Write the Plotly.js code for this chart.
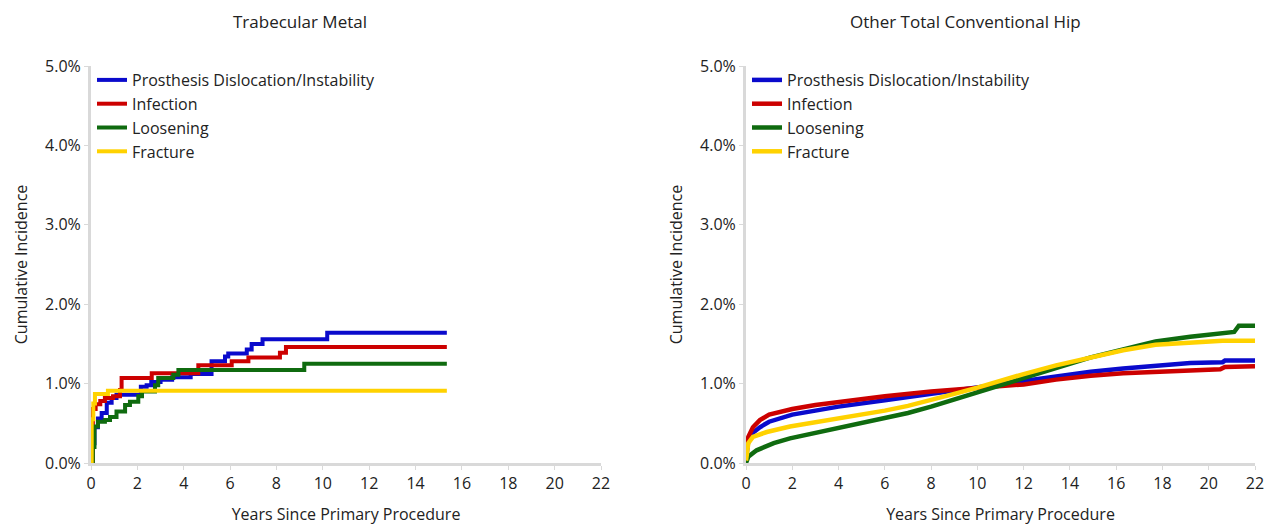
<!DOCTYPE html>
<html>
<head>
<meta charset="utf-8">
<script src="https://cdn.plot.ly/plotly-3.0.1.min.js"></script>
<style>html,body{margin:0;padding:0;background:#fff;}#chart{width:1277px;height:529px;}</style>
</head>
<body>
<div id="chart"></div>
<script>
// ---- Data (cumulative incidence, %) ----
const seriesNames = ["Prosthesis Dislocation/Instability", "Infection", "Loosening", "Fracture"];
const seriesColors = ["#0a0acc", "#cc0000", "#0f6b0f", "#ffd200"];
const panelTitles = ["Trabecular Metal", "Other Total Conventional Hip"];
const xTickVals = [0, 2, 4, 6, 8, 10, 12, 14, 16, 18, 20, 22];
const yTickVals = [0, 1, 2, 3, 4, 5];
const yTickText = ["0.0%", "1.0%", "2.0%", "3.0%", "4.0%", "5.0%"];

// Trabecular Metal (step functions)
const tmDislocX = [0, 0.03, 0.15, 0.3, 0.46, 0.68, 0.89, 1.1, 2.15, 2.4, 2.6, 3.0, 3.5, 4.3, 5.2, 5.78, 5.92, 6.72, 6.93, 7.4, 10.19, 15.35];
const tmDislocY = [0, 0.25, 0.45, 0.56, 0.63, 0.76, 0.82, 0.86, 0.96, 0.98, 1.02, 1.05, 1.08, 1.12, 1.28, 1.34, 1.38, 1.43, 1.50, 1.56, 1.64, 1.64];
const tmInfectX = [0, 0.08, 0.2, 0.4, 0.6, 0.95, 1.25, 1.32, 2.62, 4.63, 6.07, 6.79, 8.15, 8.41, 15.35];
const tmInfectY = [0, 0.68, 0.74, 0.78, 0.82, 0.84, 0.92, 1.07, 1.13, 1.23, 1.28, 1.33, 1.39, 1.46, 1.46];
const tmLoosenX = [0, 0.08, 0.15, 0.3, 0.6, 0.82, 1.1, 1.47, 1.68, 2.04, 2.2, 2.76, 2.9, 3.55, 3.77, 9.2, 15.35];
const tmLoosenY = [0, 0.2, 0.46, 0.52, 0.54, 0.58, 0.65, 0.73, 0.77, 0.84, 0.9, 0.98, 1.07, 1.11, 1.17, 1.25, 1.25];
const tmFractX = [0, 0.03, 0.1, 0.17, 0.73, 15.35];
const tmFractY = [0, 0.55, 0.75, 0.87, 0.91, 0.91];

// Other Total Conventional Hip
const ocDislocX = [0, 0.1, 0.3, 0.6, 1, 2, 3, 4, 6, 8, 10, 12, 13.4, 14.9, 16.3, 17.7, 19.2, 20.6, 20.7, 22];
const ocDislocY = [0.05, 0.28, 0.38, 0.45, 0.52, 0.61, 0.66, 0.71, 0.79, 0.87, 0.94, 1.03, 1.09, 1.15, 1.19, 1.23, 1.26, 1.27, 1.29, 1.29];
const ocInfectX = [0, 0.1, 0.3, 0.6, 1, 2, 3, 4, 6, 8, 10, 12, 13.4, 14.9, 16.3, 17.7, 19.2, 20.5, 20.7, 21.3, 22];
const ocInfectY = [0.1, 0.33, 0.45, 0.54, 0.61, 0.68, 0.73, 0.77, 0.84, 0.9, 0.95, 0.99, 1.05, 1.1, 1.13, 1.15, 1.17, 1.18, 1.21, 1.22, 1.22];
const ocLoosenX = [0, 0.1, 0.46, 1.2, 1.9, 3, 4, 5, 6, 7, 8, 9, 10, 11, 12, 13.4, 14.9, 16.3, 17.7, 19.2, 20.6, 21.1, 21.3, 22];
const ocLoosenY = [0, 0.08, 0.16, 0.25, 0.31, 0.38, 0.44, 0.5, 0.56, 0.63, 0.71, 0.8, 0.9, 0.98, 1.07, 1.2, 1.33, 1.43, 1.53, 1.59, 1.64, 1.65, 1.73, 1.73];
const ocFractX = [0, 0.1, 0.3, 0.9, 1.9, 3, 4, 5, 6, 7, 8, 9, 10, 11, 12, 13.4, 14.9, 16.3, 17.7, 19.2, 20.6, 22];
const ocFractY = [0.03, 0.25, 0.33, 0.39, 0.46, 0.51, 0.56, 0.61, 0.66, 0.72, 0.79, 0.87, 0.95, 1.04, 1.12, 1.23, 1.33, 1.42, 1.49, 1.52, 1.54, 1.54];

const FONT = "Open Sans, Noto Sans, sans-serif";
const leftSets = [[tmDislocX, tmDislocY], [tmInfectX, tmInfectY], [tmLoosenX, tmLoosenY], [tmFractX, tmFractY]];
const rightSets = [[ocDislocX, ocDislocY], [ocInfectX, ocInfectY], [ocLoosenX, ocLoosenY], [ocFractX, ocFractY]];

const traces = [];
leftSets.forEach((s, i) => traces.push({
  x: s[0], y: s[1], type: "scatter", mode: "lines", name: seriesNames[i],
  line: {color: seriesColors[i], width: 4, shape: "hv"},
  xaxis: "x", yaxis: "y", legend: "legend"
}));
rightSets.forEach((s, i) => traces.push({
  x: s[0], y: s[1], type: "scatter", mode: "lines", name: seriesNames[i],
  line: {color: seriesColors[i], width: 4.5, shape: "linear"},
  xaxis: "x2", yaxis: "y2", legend: "legend2"
}));

const W = 1277, H = 529;
function xAxis(d0, d1, anchor) {
  return {
    domain: [d0 / W, d1 / W], anchor: anchor, range: [0, 22],
    tickvals: xTickVals, ticktext: xTickVals.map(String),
    showgrid: false, zeroline: false, showline: true, linecolor: "#d9d9d9", linewidth: 3,
    ticks: "outside", ticklen: 4, tickcolor: "#d9d9d9", tickwidth: 1,
    tickfont: {family: FONT, size: 16, color: "#222"}, automargin: false,
    title: {text: "Years Since Primary Procedure", font: {family: FONT, size: 16, color: "#222"}, standoff: 16}
  };
}
function yAxis(anchor) {
  return {
    domain: [(H - 463) / H, (H - 66) / H], anchor: anchor, range: [0, 5],
    tickvals: yTickVals, ticktext: yTickText,
    showgrid: false, zeroline: false, showline: true, linecolor: "#d9d9d9", linewidth: 3,
    ticks: "outside", ticklen: 4, tickcolor: "#d9d9d9", tickwidth: 1,
    tickfont: {family: FONT, size: 16, color: "#222"}, automargin: false,
    title: {text: "Cumulative Incidence", font: {family: FONT, size: 16, color: "#222"}, standoff: 14}
  };
}
function legendAt(xpx) {
  return {
    x: xpx / W, xanchor: "left", y: (H - 63) / H, yanchor: "top",
    bgcolor: "rgba(0,0,0,0)", font: {family: FONT, size: 16, color: "#222"},
    tracegroupgap: 0, itemwidth: 30
  };
}

const layout = {
  width: W, height: H, margin: {l: 0, r: 0, t: 0, b: 0},
  paper_bgcolor: "#fff", plot_bgcolor: "#fff",
  showlegend: true,
  xaxis: xAxis(91, 601, "y"), yaxis: yAxis("x"),
  xaxis2: xAxis(746, 1255, "y2"), yaxis2: yAxis("x2"),
  legend: legendAt(92), legend2: legendAt(747),
  annotations: [
    {text: panelTitles[0], x: 300 / W, y: 1 - 21 / H, xref: "paper", yref: "paper", showarrow: false,
     font: {family: FONT, size: 17, color: "#222"}, xanchor: "center", yanchor: "middle"},
    {text: panelTitles[1], x: 965 / W, y: 1 - 21 / H, xref: "paper", yref: "paper", showarrow: false,
     font: {family: FONT, size: 17, color: "#222"}, xanchor: "center", yanchor: "middle"}
  ]
};

Plotly.newPlot("chart", traces, layout, {displayModeBar: false, staticPlot: true});
</script>
</body>
</html>
